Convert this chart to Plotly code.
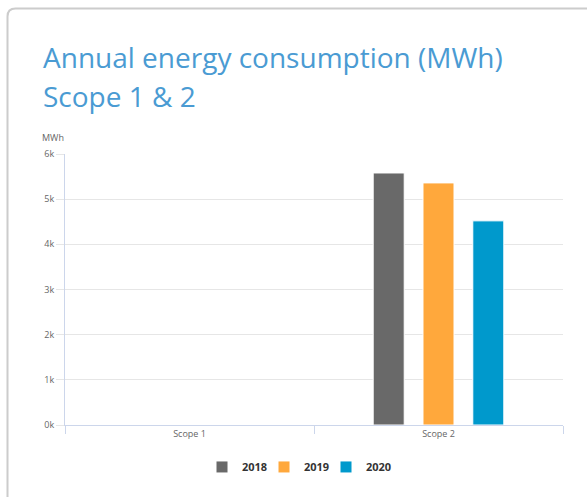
import plotly.graph_objects as go

categories = ["Scope 1", "Scope 2"]
years = ["2018", "2019", "2020"]
values_2018 = [None, 5580]
values_2019 = [None, 5360]
values_2020 = [None, 4520]
series_values = [values_2018, values_2019, values_2020]
colors = ["#696969", "#FFA83C", "#0099CC"]
y_tickvals = [0, 1000, 2000, 3000, 4000, 5000, 6000]
y_ticktext = ["0k", "1k", "2k", "3k", "4k", "5k", "6k"]

W, H = 587, 497
L, R, T, B = 65, 24, 153.7, 72
pw = W - L - R
ph = H - T - B


def px(x):
    return (x - L) / pw


def py(y):
    return (H - B - y) / ph


fig = go.Figure()
for name, vals, c in zip(years, series_values, colors):
    fig.add_trace(go.Bar(
        x=categories, y=vals, name=name,
        marker=dict(color=c, line=dict(color="white", width=1)),
    ))
# invisible spacer entry so the last legend label is not clipped
fig.add_trace(go.Scatter(x=[None], y=[None], mode="markers", name=" ",
                         marker=dict(color="rgba(0,0,0,0)", size=1,
                                     line=dict(width=0, color="rgba(0,0,0,0)")),
                         hoverinfo="skip"))

# card border
r = 8
x0, y0 = 7.5, 8
path = (f"M {px(x0)},{py(600)} L {px(x0)},{py(y0 + r)} "
        f"Q {px(x0)},{py(y0)} {px(x0 + r)},{py(y0)} L {px(700)},{py(y0)}")

fig.update_layout(
    width=W, height=H,
    margin=dict(l=L, r=R, t=T, b=B, autoexpand=False),
    paper_bgcolor="white", plot_bgcolor="white",
    font=dict(family="Open Sans", color="#666666", size=9),
    barmode="group", bargap=0.4, bargroupgap=0.377,
    showlegend=True,
    legend=dict(orientation="h", x=px(202), xanchor="left", y=py(467), yanchor="middle",
                font=dict(family="Open Sans", size=11, color="#333333", weight="bold"),
                itemwidth=30, traceorder="normal", entrywidth=17, entrywidthmode="pixels",
                bgcolor="rgba(0,0,0,0)"),
    xaxis=dict(showline=True, linecolor="#ccd6eb", linewidth=1, ticks="outside",
               tickson="boundaries", ticklen=8, tickcolor="#ccd6eb",
               tickfont=dict(size=9, color="#666666"), showgrid=False, fixedrange=True),
    yaxis=dict(range=[0, 6000], tickvals=y_tickvals, ticktext=y_ticktext,
               showline=True, linecolor="#ccd6eb", linewidth=1,
               gridcolor="#e6e6e6", ticks="outside", ticklen=8, tickcolor="#e6e6e6",
               tickfont=dict(size=9, color="#666666"), zeroline=False, fixedrange=True),
    shapes=[dict(type="path", xref="paper", yref="paper", path=path,
                 line=dict(color="#cccccc", width=2), layer="above")],
    annotations=[
        dict(text="Annual energy consumption (MWh)", xref="paper", yref="paper",
             x=px(41), y=py(67), xanchor="left", yanchor="bottom", showarrow=False,
             font=dict(family="Open Sans", size=28, color="#4A9BD3"), yshift=-11),
        dict(text="Scope 1 & 2", xref="paper", yref="paper",
             x=px(41), y=py(106), xanchor="left", yanchor="bottom", showarrow=False,
             font=dict(family="Open Sans", size=28, color="#4A9BD3"), yshift=-11),
        dict(text="MWh", xref="paper", yref="paper", x=px(40), y=py(137),
             xanchor="left", yanchor="middle", showarrow=False,
             font=dict(family="Open Sans", size=9, color="#666666")),
    ],
)

fig.write_html("out.html", config={"displayModeBar": False},
               post_script="document.body.style.margin='0';")
